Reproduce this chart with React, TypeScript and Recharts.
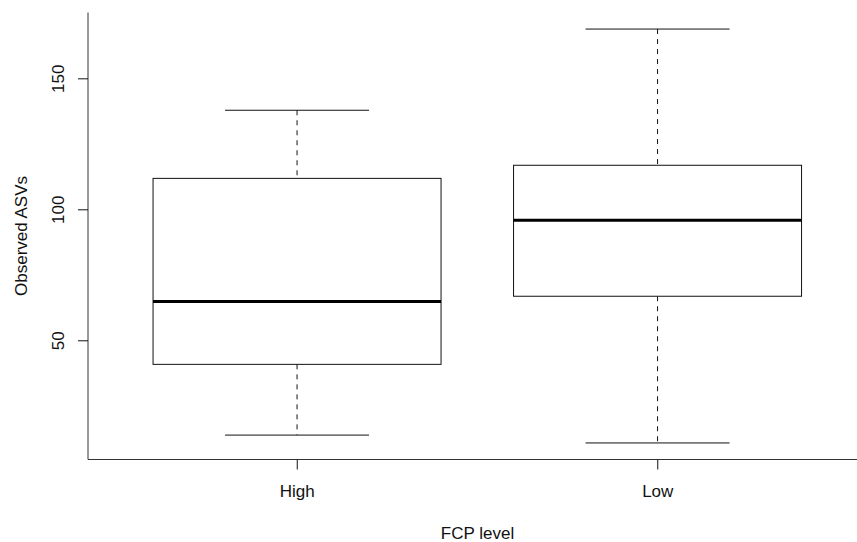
import React from 'react';
import { ComposedChart, Bar, XAxis, YAxis, Customized } from 'recharts';

// box statistics per FCP level
const categories = ['High', 'Low'];
const whiskerLow = [14, 11];
const q1 = [41, 67];
const median = [65, 96];
const q3 = [112, 117];
const whiskerHigh = [138, 169];
const yTicks = [50, 100, 150];

const FONT = '"Liberation Sans", Arial, Helvetica, sans-serif';
const INK = '#111';

const rows = categories.map((name, i) => ({
    name,
    range: [q1[i], q3[i]],
    min: whiskerLow[i],
    q1: q1[i],
    median: median[i],
    q3: q3[i],
    max: whiskerHigh[i],
}));

// R-style axis extension: 4% on each side of the data range
const lo = Math.min(...whiskerLow);
const hi = Math.max(...whiskerHigh);
const ext = (hi - lo) * 0.04;
const yDomain = [lo - ext, hi + ext];

// box + whiskers, derived from the bar's own pixel box (q1..q3)
const BoxShape = (props: any) => {
    const { x, y, width, height, payload } = props;
    const top = Math.min(y, y + height);
    const h = Math.abs(height);
    const k = h / (payload.q3 - payload.q1);
    const toY = (v: number) => top + (payload.q3 - v) * k;
    const cx = x + width / 2;
    const cap = width / 4;
    return (
        <g>
            <line x1={cx} x2={cx} y1={toY(payload.max)} y2={toY(payload.q3)} stroke={INK} strokeDasharray="5 5" />
            <line x1={cx} x2={cx} y1={toY(payload.q1)} y2={toY(payload.min)} stroke={INK} strokeDasharray="5 5" />
            <line x1={cx - cap} x2={cx + cap} y1={toY(payload.max)} y2={toY(payload.max)} stroke={INK} />
            <line x1={cx - cap} x2={cx + cap} y1={toY(payload.min)} y2={toY(payload.min)} stroke={INK} />
            <rect x={x} y={top} width={width} height={h} fill="#fff" stroke={INK} />
            <line x1={x} x2={x + width} y1={toY(payload.median)} y2={toY(payload.median)} stroke="#000" strokeWidth={3} />
        </g>
    );
};

const YTick = (props: any) => {
    const { x, y, payload } = props;
    return (
        <text x={x} y={y} transform={`rotate(-90, ${x}, ${y})`} textAnchor="middle"
            fontSize={17} fontFamily={FONT} fill={INK}>
            {payload.value}
        </text>
    );
};

const Titles = () => (
    <g fontFamily={FONT} fontSize={17} fill={INK}>
        <text x={477.5} y={539} textAnchor="middle">FCP level</text>
        <text x={27} y={236} textAnchor="middle" transform="rotate(-90, 27, 236)">Observed ASVs</text>
    </g>
);

export default function App() {
    return (
        <div style={{ position: 'absolute', left: 0, top: 0, width: 857, height: 542, overflow: 'hidden', background: '#fff' }}>
            <ComposedChart
                width={867}
                height={542}
                data={rows}
                margin={{ top: 12.5, right: 0, bottom: 0, left: 0 }}
                barCategoryGap="10%"
            >
                <XAxis
                    dataKey="name"
                    height={82.5}
                    padding={{ left: 29, right: 29 }}
                    axisLine={{ stroke: '#333' }}
                    tickLine={{ stroke: INK }}
                    tickSize={10}
                    tickMargin={15}
                    tick={{ fill: INK, fontSize: 17, fontFamily: FONT }}
                />
                <XAxis
                    xAxisId="top"
                    orientation="top"
                    dataKey="name"
                    height={0}
                    tick={false}
                    tickLine={false}
                    axisLine={{ stroke: '#333' }}
                />
                <YAxis
                    type="number"
                    width={88}
                    domain={yDomain}
                    allowDataOverflow
                    ticks={yTicks}
                    axisLine={{ stroke: '#333' }}
                    tickLine={{ stroke: INK }}
                    tickSize={10}
                    tickMargin={14}
                    tick={<YTick />}
                />
                <Bar dataKey="range" shape={<BoxShape />} isAnimationActive={false} />
                <Customized component={<Titles />} />
            </ComposedChart>
        </div>
    );
}
